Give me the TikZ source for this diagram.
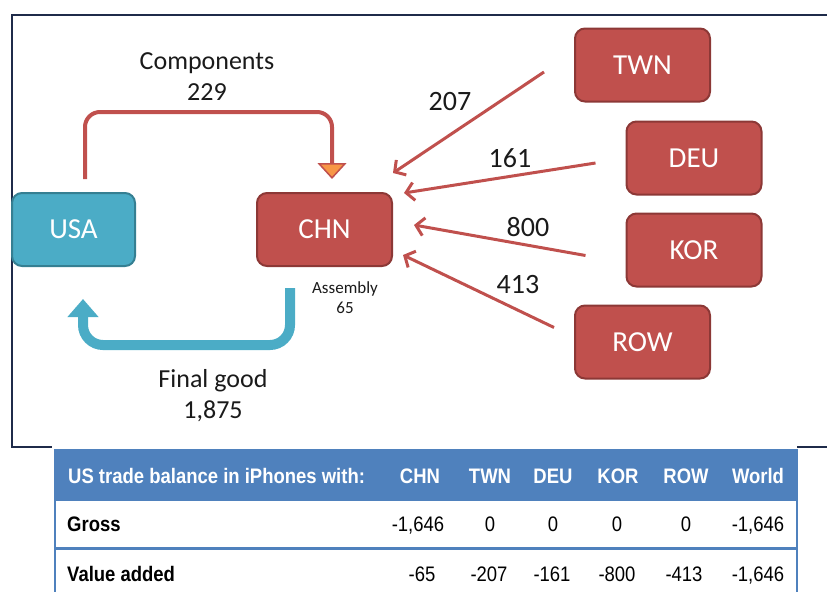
\documentclass[tikz,border=0pt]{standalone}
\usepackage{fontspec}
\setmainfont{Carlito}
\newfontfamily\tablefont[FakeStretch=0.88]{Liberation Sans}
\usetikzlibrary{arrows.meta,calc}
\definecolor{boxred}{HTML}{C0504D}
\definecolor{boxredline}{HTML}{8C3836}
\definecolor{boxteal}{HTML}{4BACC6}
\definecolor{boxtealline}{HTML}{357F92}
\definecolor{tipfill}{HTML}{F79646}
\definecolor{framecol}{HTML}{1F2B4A}
\definecolor{tblue}{HTML}{4F81BD}
\definecolor{inkcol}{HTML}{1A1A1A}
\begin{document}
\begin{tikzpicture}[x=1pt,y=-1pt,
  country/.style={rounded corners=10pt, line width=2pt, minimum width=135pt,
    minimum height=73pt, text=white, font=\fontsize{29}{30}\selectfont, inner sep=0pt},
  redbox/.style={country, fill=boxred, draw=boxredline},
  tealbox/.style={country, fill=boxteal, draw=boxtealline, minimum width=123pt},
  flowlabel/.style={font=\fontsize{28}{30}\selectfont, text=inkcol, inner sep=0pt},
  caption/.style={font=\fontsize{26}{31}\selectfont, align=center, text=inkcol, inner sep=0pt},
  smallcap/.style={font=\fontsize{17}{20}\selectfont, align=center, text=inkcol, inner sep=0pt},
  supply/.style={draw=boxred, line width=3pt, -{Straight Barb[length=8pt,width=18pt]}},
  thead/.style={font=\tablefont\bfseries\fontsize{21}{24}\selectfont, text=white, inner sep=0pt, anchor=base},
  rowhead/.style={font=\tablefont\bfseries\fontsize{21}{24}\selectfont, text=black, inner sep=0pt, anchor=base west},
  cell/.style={font=\tablefont\fontsize{21}{24}\selectfont, text=black, inner sep=0pt, anchor=base}
]
\useasboundingbox (0,0) rectangle (827,592);

% outer frame
\draw[framecol, line width=2pt] (827,15) -- (12,15) -- (12,447) -- (52,447);
\draw[framecol, line width=2pt] (797,447) -- (827,447);

% countries
\node[tealbox] (usa) at (73.5,229.5) {USA};
\node[redbox]  (chn) at (324.5,229.5) {CHN};
\node[redbox]  (twn) at (642.5,65) {TWN};
\node[redbox]  (deu) at (694,158) {DEU};
\node[redbox]  (kor) at (694,250) {KOR};
\node[redbox]  (row) at (642.5,342) {ROW};

% components flow USA -> CHN
\coordinate (cs) at ([xshift=11.5pt,yshift=13pt]usa.north);
\coordinate (ce) at ([xshift=7.5pt,yshift=13pt]chn.north);
\draw[boxred, line width=4pt, rounded corners=15pt,
  -{Triangle[width=29pt,length=16pt,fill=tipfill,line width=1.5pt]}]
  (cs) |- ($(ce)+(0,-67)$) -- (ce);
\node[caption] (comp) at (207,77) {Components\\229};

% final good flow CHN -> USA
\coordinate (fs) at ([xshift=-34.5pt,yshift=-21pt]chn.south);
\coordinate (fe) at ([xshift=9.5pt,yshift=-32pt]usa.south);
\draw[boxteal, line width=10pt, rounded corners=20pt,
  -{Triangle[width=30pt,length=18pt]}]
  (fs) |- ($(fe)+(0,46)$) -- (fe);
\node[caption] (fg) at (213,396) {Final good\\1,875};
\node[smallcap] (asm) at (345,298) {Assembly\\65};

% supplier flows into CHN
\coordinate (t1) at ([xshift=-30pt,yshift=-7pt]twn.west);
\coordinate (t2) at ([yshift=56.5pt]chn.east);
\draw[supply] (t1) -- (t2);
\coordinate (d1) at ([xshift=-30pt,yshift=-5pt]deu.west);
\coordinate (d2) at ([xshift=11pt,yshift=36.5pt]chn.east);
\draw[supply] (d1) -- (d2);
\coordinate (k1) at ([xshift=-40pt,yshift=-5.5pt]kor.west);
\coordinate (k2) at ([xshift=21pt,yshift=4.5pt]chn.east);
\draw[supply] (k1) -- (k2);
\coordinate (r1) at ([xshift=-20pt,yshift=14.5pt]row.west);
\coordinate (r2) at ([xshift=10pt,yshift=-25.5pt]chn.east);
\draw[supply] (r1) -- (r2);
\node[flowlabel] (l207) at (450,102) {207};
\node[flowlabel] (l161) at (510,158) {161};
\node[flowlabel] (l800) at (528,227) {800};
\node[flowlabel] (l413) at (518,285) {413};

% trade balance table
\fill[white] (53,449) rectangle (799,592);
\fill[tblue] (55,449) rectangle (797,501);
\draw[tblue, line width=1.5pt] (55,449) -- (55,592);
\draw[tblue, line width=1.5pt] (797,449) -- (797,592);
\draw[tblue, line width=3pt] (55,548) -- (797,548);

\node[thead, anchor=base west] (h0) at (68,483) {US trade balance in iPhones with:};
\node[thead] (h1) at (420,483) {CHN};
\node[thead] (h2) at (490,483) {TWN};
\node[thead] (h3) at (553,483) {DEU};
\node[thead] (h4) at (618,483) {KOR};
\node[thead] (h5) at (686,483) {ROW};
\node[thead] (h6) at (758,483) {World};

\node[rowhead] (g0) at (67,531) {Gross};
\node[cell] (g1) at (418,531) {-1,646};
\node[cell] (g2) at (490,531) {0};
\node[cell] (g3) at (553,531) {0};
\node[cell] (g4) at (617,531) {0};
\node[cell] (g5) at (686,531) {0};
\node[cell] (g6) at (758,531) {-1,646};

\node[rowhead] (v0) at (67,581) {Value added};
\node[cell] (v1) at (422,581) {-65};
\node[cell] (v2) at (489,581) {-207};
\node[cell] (v3) at (552,581) {-161};
\node[cell] (v4) at (617,581) {-800};
\node[cell] (v5) at (684,581) {-413};
\node[cell] (v6) at (758,581) {-1,646};
\end{tikzpicture}
\end{document}
